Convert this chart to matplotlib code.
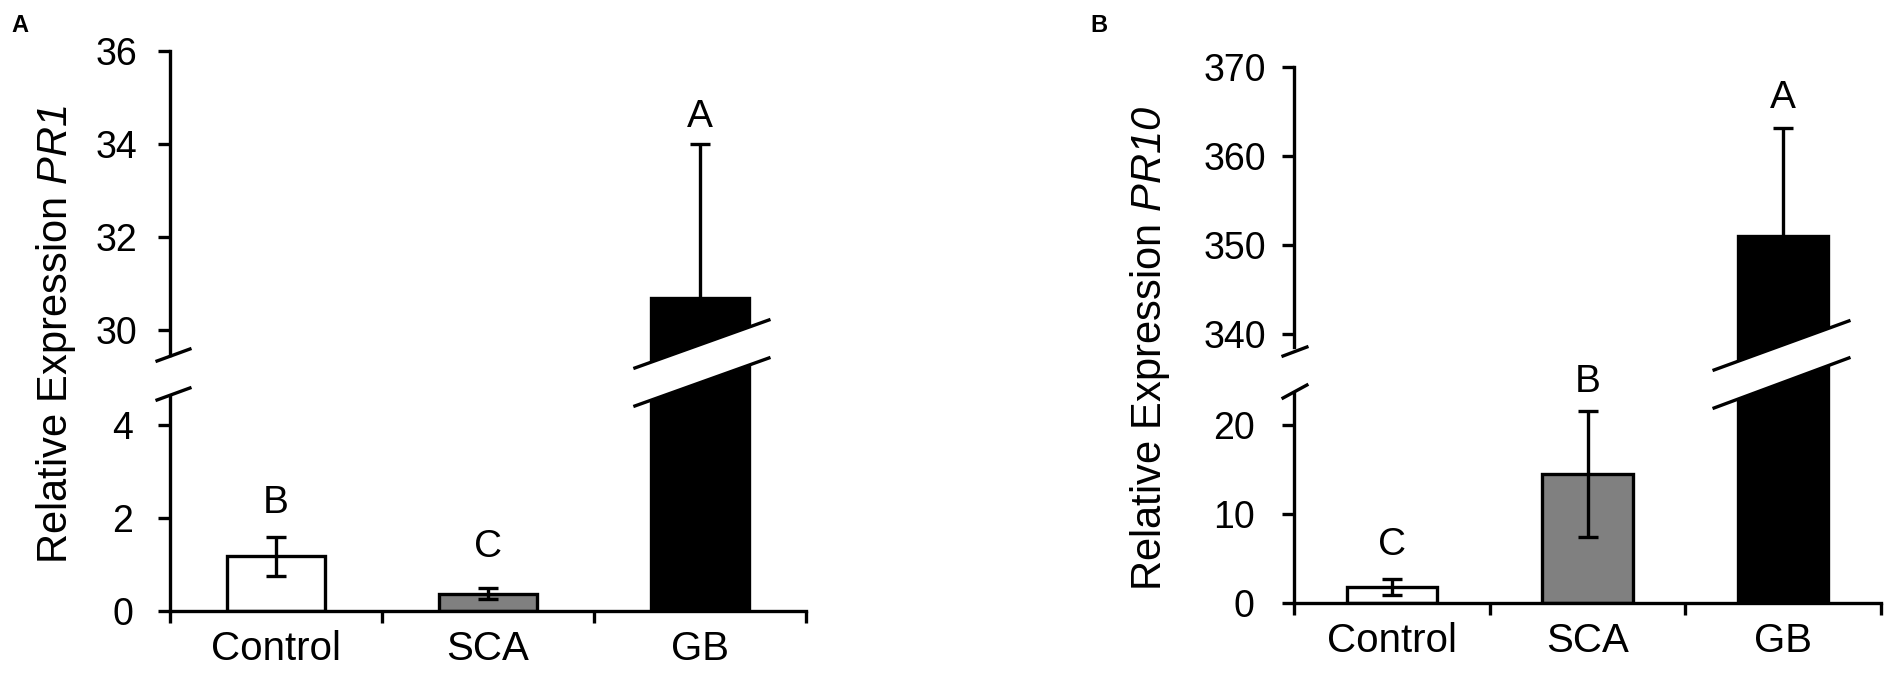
import matplotlib
matplotlib.use("Agg")
import matplotlib.pyplot as plt
from matplotlib.patches import Polygon
from matplotlib.lines import Line2D

# ---------------- data ----------------
categories = ["Control", "SCA", "GB"]
bar_colors = ["white", "#808080", "black"]

pr1_mean = [1.18, 0.37, 30.69]
pr1_err = [0.42, 0.12, 3.30]
pr1_letters = ["B", "C", "A"]
pr1_letter_y = [2.32, 1.38, 34.58]

pr10_mean = [1.8, 14.5, 351.0]
pr10_err = [0.9, 7.1, 12.1]
pr10_letters = ["C", "B", "A"]
pr10_letter_y = [6.5, 24.8, 366.5]

pr1_lower_ticks = [0, 2, 4]
pr1_upper_ticks = [30, 32, 34, 36]
pr10_lower_ticks = [0, 10, 20]
pr10_upper_ticks = [340, 350, 360, 370]

# ---------------- style ----------------
plt.rcParams["font.family"] = ["Liberation Sans", "DejaVu Sans"]
plt.rcParams["mathtext.fontset"] = "custom"
plt.rcParams["mathtext.rm"] = "Liberation Sans:italic"
plt.rcParams["mathtext.it"] = "Liberation Sans:italic"
plt.rcParams["mathtext.default"] = "rm"

W, H = 1892, 683
fig = plt.figure(figsize=(W / 100, H / 100), dpi=100)

LW = 2.4
TICK_FS = 27
CAT_FS = 29
LET_FS = 28
LAB_FS = 30


def add_ax(l, r, top, bottom):
    return fig.add_axes([l / W, 1 - bottom / H, (r - l) / W, (bottom - top) / H])


def draw_panel(left, right, y0, gap_top, y_top,
               low_lim, low_spine_top, up_lim,
               means, errs, letters, letter_y, low_ticks, up_ticks,
               pad_low, pad_up, band, slashes):
    x = list(range(len(categories)))
    up = add_ax(left, right, y_top, gap_top)
    low = add_ax(left, right, gap_top, y0)
    low.set_zorder(2)
    low.patch.set_visible(False)

    for ax in (up, low):
        ax.bar(x, means, width=0.46, color=bar_colors, edgecolor="black",
               linewidth=LW, zorder=2)
        ax.errorbar(x, means, yerr=errs, fmt="none", ecolor="black",
                    elinewidth=LW, capsize=7, capthick=LW, zorder=3)
        ax.set_xlim(-0.5, len(categories) - 0.5)
        for s in ("top", "right"):
            ax.spines[s].set_visible(False)
        ax.spines["left"].set_linewidth(LW)
        ax.spines["bottom"].set_linewidth(LW)
        ax.tick_params(axis="y", direction="out", length=8.5, width=LW,
                       labelsize=TICK_FS)

    up.set_ylim(*up_lim)
    up.set_yticks(up_ticks)
    up.spines["bottom"].set_visible(False)
    up.set_xticks([])
    up.tick_params(axis="y", pad=pad_up)

    low.set_ylim(*low_lim)
    low.spines["left"].set_bounds(0, low_spine_top)
    low.set_yticks(low_ticks)
    low.tick_params(axis="y", pad=pad_low)
    low.set_xticks([-0.5 + i for i in range(len(categories) + 1)])
    low.set_xticklabels([])
    low.tick_params(axis="x", which="major", direction="out", length=8.5,
                    width=LW)
    low.set_xticks(x, minor=True)
    low.set_xticklabels(categories, minor=True)
    low.tick_params(axis="x", which="minor", length=0, pad=14,
                    labelsize=CAT_FS)

    for xi, lt, ly in zip(x, letters, letter_y):
        target = up if ly > up_lim[0] else low
        target.text(xi, ly, lt, ha="center", va="center", fontsize=LET_FS,
                    zorder=5, clip_on=False)

    (bx0, bx1, u0, u1, l0, l1) = band
    poly = Polygon([[bx0, u0], [bx1, u1], [bx1, l1], [bx0, l0]], closed=True,
                   facecolor="white", edgecolor="none", zorder=6,
                   clip_on=False)
    low.add_patch(poly)
    for (ya, yb) in ((u0, u1), (l0, l1)):
        low.add_line(Line2D([bx0, bx1], [ya, yb], color="black", lw=LW,
                            zorder=7, clip_on=False))
    for (sx0, sx1, sy0, sy1) in slashes:
        low.add_line(Line2D([sx0, sx1], [sy0, sy1], color="black", lw=LW,
                            zorder=7, clip_on=False))
    return up, low


# Panel A
draw_panel(170, 806, 611, 355, 51,
           (0, 5.505), 4.62, (29.46, 36),
           pr1_mean, pr1_err, pr1_letters, pr1_letter_y,
           pr1_lower_ticks, pr1_upper_ticks, 18, 15,
           (1.693, 2.325, 5.226, 6.258, 4.409, 5.441),
           [(-0.561, -0.406, 5.376, 5.634), (-0.561, -0.406, 4.538, 4.796)])

# Panel B
draw_panel(1294, 1881, 603, 347, 67,
           (0, 28.76), 23.6, (338.54, 370),
           pr10_mean, pr10_err, pr10_letters, pr10_letter_y,
           pr10_lower_ticks, pr10_upper_ticks, 20, 11.5,
           (1.647, 2.336, 26.18, 31.69, 21.91, 27.53),
           [(-0.556, -0.434, 27.75, 28.76), (-0.556, -0.434, 23.03, 24.49)])

fig.text(56 / W, 1 - 335 / H, r"Relative Expression $\mathrm{PR1}$",
         rotation=90, ha="center", va="center", fontsize=LAB_FS)
fig.text(1150 / W, 1 - 348 / H, r"Relative Expression $\mathrm{PR10}$",
         rotation=90, ha="center", va="center", fontsize=LAB_FS)

fig.text(20 / W, 1 - 26 / H, "A", ha="center", va="center", fontsize=17,
         fontweight="bold")
fig.text(1099 / W, 1 - 26 / H, "B", ha="center", va="center", fontsize=17,
         fontweight="bold")

fig.savefig("out.png", dpi=100, facecolor="white")
